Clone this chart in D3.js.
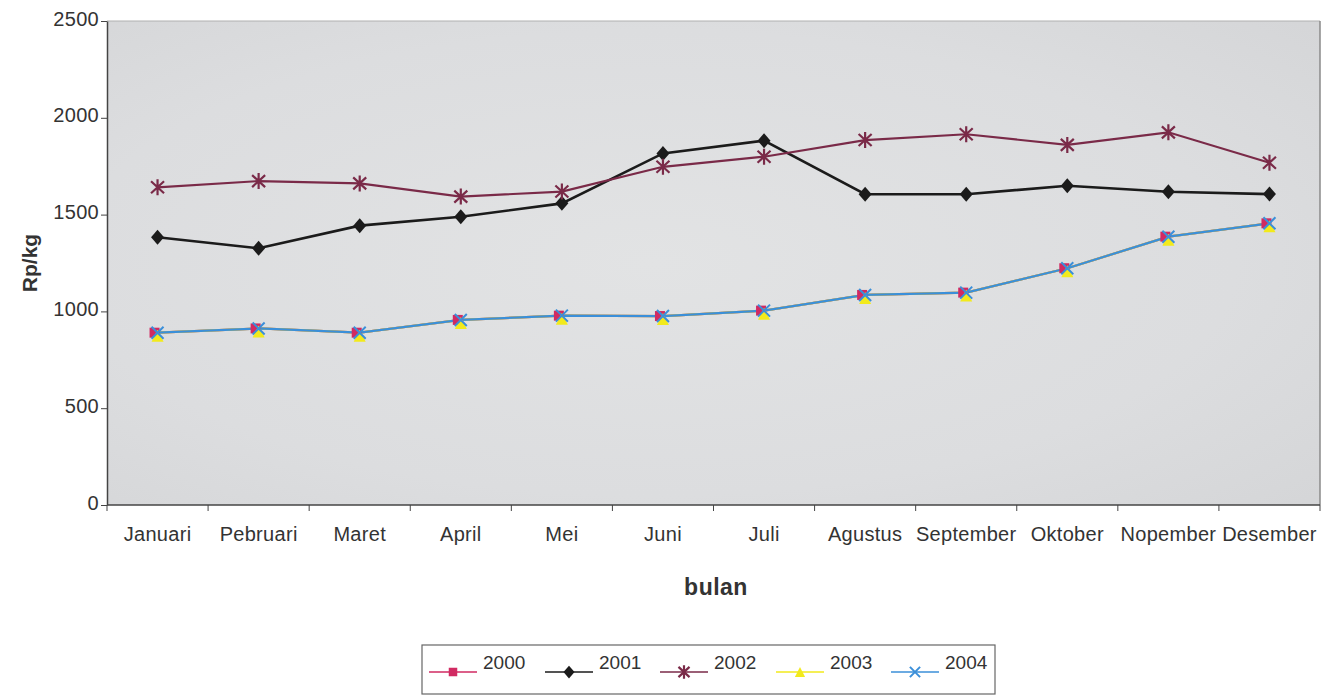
<!DOCTYPE html>
<html><head><meta charset="utf-8">
<script src="https://cdn.jsdelivr.net/npm/d3@7"></script>
<style>
html,body{margin:0;padding:0;background:#fff;}
svg{display:block;font-family:"Liberation Sans",Arial,sans-serif;}
</style></head>
<body><svg id="c" width="1332" height="696"></svg>
<script>
const months = ["Januari","Pebruari","Maret","April","Mei","Juni","Juli","Agustus","September","Oktober","Nopember","Desember"];
const yTicks = [0,500,1000,1500,2000,2500];
const years = ["2000","2001","2002","2003","2004"];
const v2000 = [890,912,890,956,978,976,1004,1085,1097,1223,1386,1455];
const v2001 = [1383,1326,1443,1489,1558,1816,1882,1605,1605,1649,1618,1606];
const v2002 = [1641,1673,1661,1593,1619,1747,1799,1885,1915,1860,1925,1768];
const v2003 = [890,912,890,956,978,976,1004,1085,1097,1223,1386,1455];
const v2004 = [890,912,890,956,978,976,1004,1085,1097,1223,1386,1455];
const seriesValues = [v2000,v2001,v2002,v2003,v2004];
const colors = ["#d12a62","#1b1b1b","#7a2a48","#f2ea1c","#3b8fd9"];
const shapes = ["square","diamond","star","triangle","x"];
const FONT = "Liberation Sans, Arial, sans-serif";

const svg = d3.select("#c");
const L=107, R=1320, T=21, B=505;
const x = d3.scaleBand().domain(months).range([L,R]).padding(0);
const xEdge = d3.scaleLinear().domain([0,months.length]).range([L,R]);
const y = d3.scaleLinear().domain([0,2500]).range([B,T]);

// plot background
const defs = svg.append("defs");
const rg = defs.append("radialGradient").attr("id","bg").attr("cx","0.45").attr("cy","0.5").attr("r","0.8");
rg.append("stop").attr("offset","0").attr("stop-color","#e2e3e4");
rg.append("stop").attr("offset","0.6").attr("stop-color","#dcdddf");
rg.append("stop").attr("offset","1").attr("stop-color","#d3d4d6");
svg.append("rect").attr("x",L).attr("y",T).attr("width",R-L).attr("height",B-T).attr("fill","url(#bg)");
svg.append("line").attr("x1",L).attr("x2",R).attr("y1",T).attr("y2",T).attr("stroke","#b0b0b0").attr("stroke-width",1);
svg.append("line").attr("x1",R).attr("x2",R).attr("y1",T).attr("y2",B).attr("stroke","#8a8a8a").attr("stroke-width",1.5);

// y axis
const ya = svg.append("g").attr("transform",`translate(${L},0)`)
  .call(d3.axisLeft(y).tickValues(yTicks).tickFormat(d3.format("d")).tickSize(6).tickSizeOuter(0).tickPadding(2));
ya.select(".domain").attr("stroke","#444").attr("stroke-width",1.5);
ya.selectAll(".tick line").attr("stroke","#444");
ya.selectAll(".tick text").attr("font-size",20).attr("fill","#333").attr("font-family",FONT).attr("letter-spacing","0.3px").attr("dy","0.2em");

// x axis labels
const xa = svg.append("g").attr("transform",`translate(0,${B})`)
  .call(d3.axisBottom(x).tickSize(0).tickPadding(22));
xa.select(".domain").remove();
xa.selectAll(".tick text").attr("font-size",20).attr("fill","#333").attr("font-family",FONT).attr("letter-spacing","0.3px");
svg.append("line").attr("x1",L).attr("x2",R).attr("y1",B).attr("y2",B).attr("stroke","#444").attr("stroke-width",1.5);
svg.append("g").selectAll("line").data(d3.range(months.length+1)).join("line")
  .attr("x1",d=>xEdge(d)).attr("x2",d=>xEdge(d)).attr("y1",B).attr("y2",B+6).attr("stroke","#444");

// axis titles
svg.append("text").attr("transform",`translate(37,${(T+B)/2}) rotate(-90)`).attr("text-anchor","middle")
  .attr("font-size",21).attr("font-weight","bold").attr("fill","#333").text("Rp/kg");
svg.append("text").attr("x",716).attr("y",595).attr("text-anchor","middle")
  .attr("font-size",23).attr("font-weight","bold").attr("fill","#333").attr("letter-spacing","0.5px").text("bulan");

function marker(g, shape, color, cx, cy, k){
  k = k||1;
  if(shape==="square"){
    g.append("rect").attr("x",cx-5*k).attr("y",cy-5*k).attr("width",10*k).attr("height",10*k).attr("fill",color);
  } else if(shape==="diamond"){
    g.append("path").attr("d",`M${cx},${cy-7.5*k}L${cx+6.5*k},${cy}L${cx},${cy+7.5*k}L${cx-6.5*k},${cy}Z`).attr("fill",color);
  } else if(shape==="triangle"){
    g.append("path").attr("d",`M${cx},${cy-6*k}L${cx+6*k},${cy+6*k}L${cx-6*k},${cy+6*k}Z`).attr("fill",color);
  } else if(shape==="x"){
    g.append("path").attr("d",`M${cx-6*k},${cy-6*k}L${cx+6*k},${cy+6*k}M${cx-6*k},${cy+6*k}L${cx+6*k},${cy-6*k}`).attr("stroke",color).attr("stroke-width",2);
  } else if(shape==="star"){
    g.append("path").attr("d",`M${cx-6.5*k},${cy-6*k}L${cx+6.5*k},${cy+6*k}M${cx-6.5*k},${cy+6*k}L${cx+6.5*k},${cy-6*k}M${cx},${cy-8*k}L${cx},${cy+8*k}`).attr("stroke",color).attr("stroke-width",2.2);
  }
}

const line = d3.line().x((d,i)=>x(months[i])+x.bandwidth()/2).y(d=>y(d));
const lg = svg.append("g");
seriesValues.forEach((vals,si)=>{
  lg.append("path").datum(vals).attr("d",line).attr("fill","none")
    .attr("stroke",colors[si]).attr("stroke-width",si===1?2.6:2.2);
});
seriesValues.forEach((vals,si)=>{
  const g = svg.append("g");
  vals.forEach((v,i)=>{
    const ox = si===0?-3:0, oy = si===3?3:0;
    marker(g, shapes[si], colors[si], x(months[i])+x.bandwidth()/2+ox, y(v)+oy);
  });
});

// legend
const lgx=422, lgy=645, lgw=573, lgh=49;
svg.append("rect").attr("x",lgx).attr("y",lgy).attr("width",lgw).attr("height",lgh)
  .attr("fill","#fff").attr("stroke","#666").attr("stroke-width",1.2);
const itemX=[429,545,660,776,891];
years.forEach((yr,i)=>{
  const g = svg.append("g");
  const x0=itemX[i], ly=672;
  g.append("line").attr("x1",x0).attr("x2",x0+48).attr("y1",ly).attr("y2",ly).attr("stroke",colors[i]).attr("stroke-width",1.5);
  marker(g, shapes[i], colors[i], x0+24, ly, 0.85);
  g.append("text").attr("x",x0+54).attr("y",669).attr("font-size",19).attr("fill","#333").attr("font-family",FONT).text(yr);
});
</script></body></html>
